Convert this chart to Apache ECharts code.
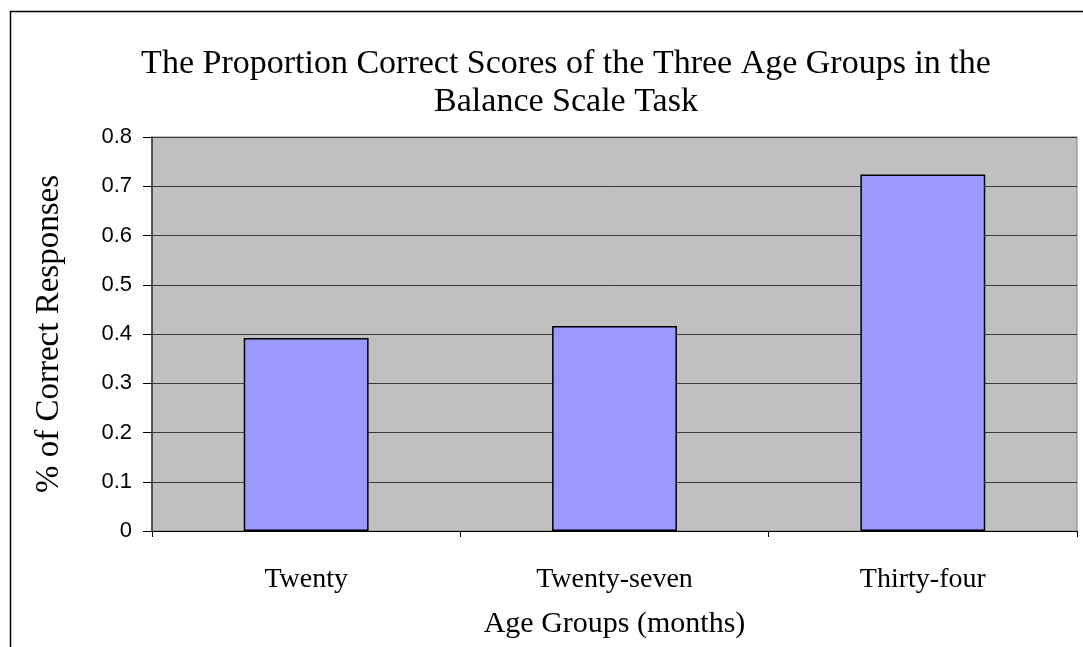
<!DOCTYPE html>
<html style="height: 100%">
<head>
	<meta charset="UTF-8">
	<title>Balance Scale Task</title>
	<script src="https://cdn.jsdelivr.net/npm/echarts@6/dist/echarts.min.js"></script>
</head>
<body style="height:100%; margin: 0; background-color:#ffffff">
<div id="main" style="width:1083px;height:647px;"></div>
<script type="text/javascript">
	// data
	var categories = ['Twenty', 'Twenty-seven', 'Thirty-four'];
	var scores = [0.392, 0.416, 0.724];
	var yTicks = [0, 0.1, 0.2, 0.3, 0.4, 0.5, 0.6, 0.7, 0.8];

	var serif = '"Liberation Serif", "Times New Roman", serif';
	var sans = '"Liberation Sans", Arial, sans-serif';

	var myChart = echarts.init(document.getElementById('main'));
	var option = {
		animation: false,
		title: {
			text: 'The Proportion Correct Scores of the Three Age Groups in the\nBalance Scale Task',
			left: 561,
			top: 40,
			textAlign: 'center',
			textStyle: {
				fontFamily: serif,
				fontWeight: 'normal',
				fontSize: 34,
				lineHeight: 38,
				color: '#000'
			}
		},
		graphic: [{
			type: 'rect',
			shape: { x: 10.5, y: 11.5, width: 1200, height: 800 },
			style: { fill: 'none', stroke: '#000', lineWidth: 1.5 },
			silent: true
		}],
		grid: {
			left: 152,
			top: 137,
			width: 925,
			height: 394,
			show: true,
			backgroundColor: '#C0C0C0',
			borderColor: '#808080',
			borderWidth: 1
		},
		xAxis: {
			type: 'category',
			data: categories,
			name: 'Age Groups (months)',
			nameLocation: 'middle',
			nameGap: 78,
			nameTextStyle: { fontFamily: serif, fontSize: 30, color: '#000' },
			axisLine: { lineStyle: { color: '#000', width: 1 } },
			axisTick: { show: true, interval: 0, length: 6, lineStyle: { color: '#000' } },
			axisLabel: { fontFamily: serif, fontSize: 28, color: '#000', margin: 35 },
			splitLine: { show: false }
		},
		yAxis: {
			type: 'value',
			min: yTicks[0],
			max: yTicks[yTicks.length - 1],
			interval: 0.1,
			name: '% of Correct Responses',
			nameLocation: 'middle',
			nameRotate: 90,
			nameGap: 86,
			nameTextStyle: { fontFamily: serif, fontSize: 33, color: '#000' },
			axisLine: { show: true, lineStyle: { color: '#333', width: 1.5 } },
			axisTick: { show: true, length: 9, lineStyle: { color: '#000' } },
			axisLabel: {
				fontFamily: sans, fontSize: 22, color: '#000', margin: 20,
				formatter: function (v) { return String(Math.round(v * 10) / 10); }
			},
			splitLine: { show: true, lineStyle: { color: '#3a3a3a', width: 1 } }
		},
		series: [{
			type: 'bar',
			data: scores,
			barWidth: '40.5%',
			itemStyle: { color: '#9999FF', borderColor: '#000', borderWidth: 1.5 }
		}]
	};
	myChart.setOption(option);
</script>
</body>
</html>
